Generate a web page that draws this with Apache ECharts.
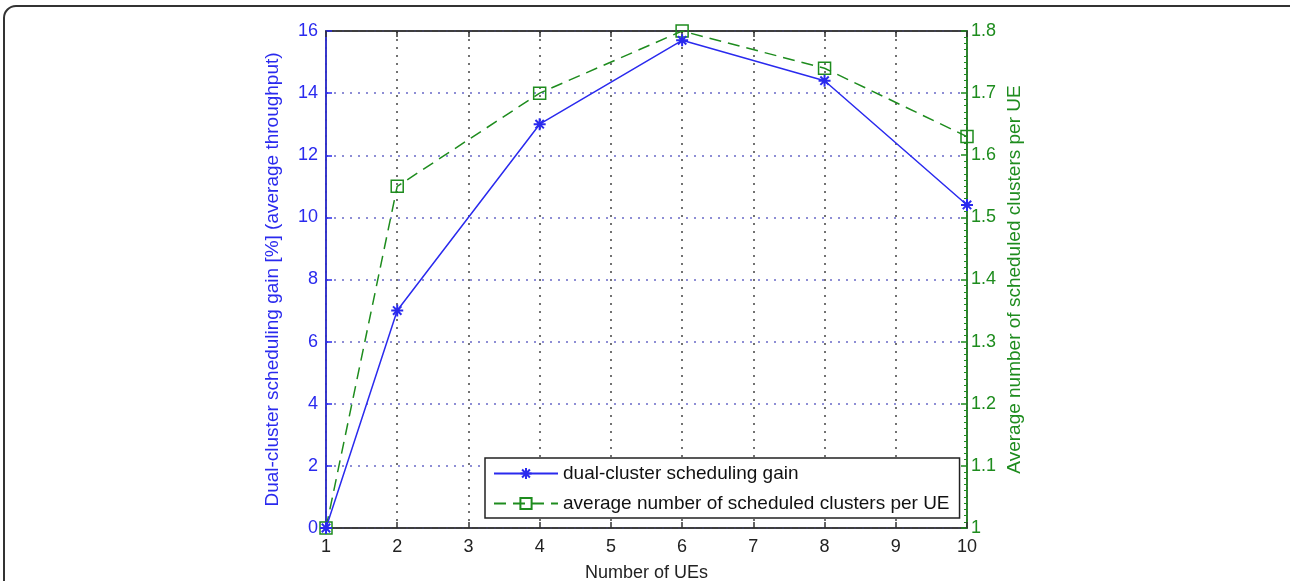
<!DOCTYPE html>
<html>
<head>
<meta charset="utf-8">
<script src="https://cdn.jsdelivr.net/npm/echarts@6/dist/echarts.min.js"></script>
<style>
  html, body { margin: 0; padding: 0; background: #fff; }
  #chart { width: 1290px; height: 581px; }
</style>
</head>
<body>
<div id="chart"></div>
<script>
// number of UEs, gain [%], avg scheduled clusters per UE
const ues = [1, 2, 4, 6, 8, 10];
const gain = [0, 7.0, 13.0, 15.7, 14.4, 10.4];
const clusters = [1.0, 1.55, 1.70, 1.80, 1.74, 1.63];

const blue = '#2a2aee';
const green = '#1e8c1e';
const font = 'Liberation Sans, Arial, sans-serif';

// asterisk marker, drawn as strokes
const star = 'path://M0,-10L0,10M-10,0L10,0M-7,-7L7,7M-7,7L7,-7';

const chart = echarts.init(document.getElementById('chart'));

chart.setOption({
  animation: false,
  textStyle: { fontFamily: font },
  graphic: [{
    type: 'rect',
    shape: { x: 4, y: 6, width: 1300, height: 620, r: 12 },
    style: { fill: 'none', stroke: '#333', lineWidth: 2 },
    silent: true
  }],
  grid: {
    left: 326, right: 323, top: 31, bottom: 53,
    outerBoundsMode: 'none',
    show: true, borderColor: '#333', borderWidth: 1.5
  },
  legend: {
    left: 485, top: 458,
    orient: 'vertical',
    backgroundColor: '#fff',
    borderColor: '#222', borderWidth: 1.5, borderRadius: 0,
    padding: [6, 10, 5, 8],
    itemWidth: 64, itemHeight: 14, itemGap: 11,
    textStyle: { fontSize: 19, color: '#111', fontFamily: font },
    data: ['dual-cluster scheduling gain', 'average number of scheduled clusters per UE']
  },
  xAxis: [{
    type: 'value', min: 1, max: 10, interval: 1,
    name: 'Number of UEs', nameLocation: 'middle', nameGap: 36,
    nameTextStyle: { fontSize: 18, color: '#222' },
    axisLine: { lineStyle: { color: '#333', width: 1.5 } },
    axisTick: { inside: true, length: 6, lineStyle: { color: '#333', width: 1.5 } },
    axisLabel: { fontSize: 18, color: '#222', margin: 10 },
    splitLine: { show: true, lineStyle: { type: [2, 6], color: '#444', width: 1.5 } }
  }, {
    type: 'value', min: 1, max: 10, interval: 1, position: 'top',
    axisLine: { show: true, lineStyle: { color: '#333', width: 1.5 } },
    axisTick: { inside: true, length: 6, lineStyle: { color: '#333', width: 1.5 } },
    axisLabel: { show: false },
    splitLine: { show: false }
  }],
  yAxis: [{
    type: 'value', min: 0, max: 16, interval: 2,
    name: 'Dual-cluster scheduling gain [%] (average throughput)',
    nameLocation: 'middle', nameGap: 44,
    nameTextStyle: { fontSize: 19, color: blue },
    axisLine: { show: true, lineStyle: { color: blue, width: 1.5 } },
    axisTick: { show: true, inside: true, length: 6, lineStyle: { color: blue, width: 1.5 } },
    axisLabel: { fontSize: 18, color: blue, margin: 8 },
    splitLine: { show: true, lineStyle: { type: [2, 6], color: '#6a6ac8', width: 1.5 } }
  }, {
    type: 'value', min: 1, max: 1.8, interval: 0.1, position: 'right',
    name: 'Average number of scheduled clusters per UE',
    nameLocation: 'middle', nameGap: 38,
    nameTextStyle: { fontSize: 19, color: green },
    axisLine: { show: true, lineStyle: { color: green, width: 1.5 } },
    axisTick: { show: true, inside: true, length: 6, lineStyle: { color: green, width: 1.5 } },
    minorTick: { show: true, splitNumber: 10, length: 3, lineStyle: { color: green, width: 1 } },
    axisLabel: {
      fontSize: 18, color: green, margin: 4,
      formatter: v => String(+v.toFixed(1))
    },
    splitLine: { show: false }
  }],
  series: [{
    name: 'dual-cluster scheduling gain',
    type: 'line',
    yAxisIndex: 0,
    data: ues.map((u, i) => [u, gain[i]]),
    lineStyle: { color: blue, width: 1.5 },
    symbol: star, symbolSize: 12,
    itemStyle: { color: blue, borderColor: blue, borderWidth: 2 },
    z: 3
  }, {
    name: 'average number of scheduled clusters per UE',
    type: 'line',
    yAxisIndex: 1,
    data: ues.map((u, i) => [u, clusters[i]]),
    lineStyle: { color: green, width: 1.5, type: [12, 7] },
    symbol: 'rect', symbolSize: 12,
    itemStyle: { color: 'rgba(0,0,0,0)', borderColor: green, borderWidth: 1.5 },
    z: 2
  }]
});
</script>
</body>
</html>
